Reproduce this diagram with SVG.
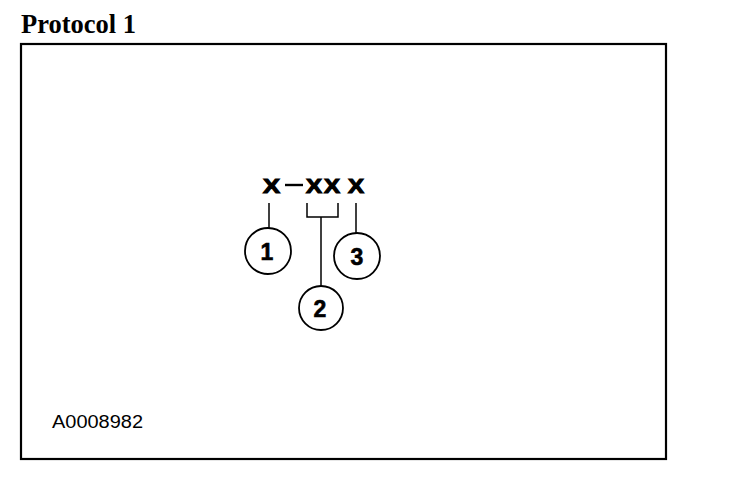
<svg xmlns="http://www.w3.org/2000/svg" width="736" height="500" viewBox="0 0 736 500">
<style>
.ln{stroke:#000;stroke-width:1.5;fill:none}
.c{stroke:#000;stroke-width:1.8;fill:#fff}
.x{font-family:"Liberation Sans",Arial,sans-serif;font-weight:bold;font-size:20px;fill:#000;stroke:#000;stroke-width:1.1}
.n{font-family:"Liberation Sans",Arial,sans-serif;font-weight:bold;font-size:23px;fill:#000;text-anchor:middle;stroke:#000;stroke-width:0.6}
</style>
<rect width="736" height="500" fill="#fff"/>
<text x="21" y="33" font-family="'Liberation Serif','Times New Roman',serif" font-weight="bold" font-size="27" textLength="115" lengthAdjust="spacingAndGlyphs" fill="#000">Protocol 1</text>
<rect x="21" y="44" width="645" height="415" fill="none" stroke="#000" stroke-width="2.2"/>
<g id="code">
<text class="x" x="263" y="193" textLength="17" lengthAdjust="spacingAndGlyphs">X</text>
<line x1="285" y1="185" x2="303" y2="185" stroke="#000" stroke-width="2.4"/>
<text class="x" x="306" y="193" textLength="16" lengthAdjust="spacingAndGlyphs">X</text>
<text class="x" x="324" y="193" textLength="16" lengthAdjust="spacingAndGlyphs">X</text>
<text class="x" x="348" y="193" textLength="16" lengthAdjust="spacingAndGlyphs">X</text>
</g>
<g id="connectors">
<line class="ln" x1="269" y1="203" x2="269" y2="228"/>
<polyline class="ln" points="307,203 307,217 338,217 338,203"/>
<line class="ln" x1="321" y1="217" x2="321" y2="286"/>
<line class="ln" x1="356" y1="203" x2="356" y2="233"/>
</g>
<g id="n1"><circle class="c" cx="268" cy="251" r="23"/><text class="n" x="267" y="260">1</text></g>
<g id="n2"><circle class="c" cx="321" cy="308" r="22"/><text class="n" x="320" y="317">2</text></g>
<g id="n3"><circle class="c" cx="357" cy="256" r="23"/><text class="n" x="357" y="265">3</text></g>
<text x="52" y="428" font-family="'Liberation Sans',Arial,sans-serif" font-size="18" textLength="91" lengthAdjust="spacingAndGlyphs" fill="#000">A0008982</text>
</svg>
